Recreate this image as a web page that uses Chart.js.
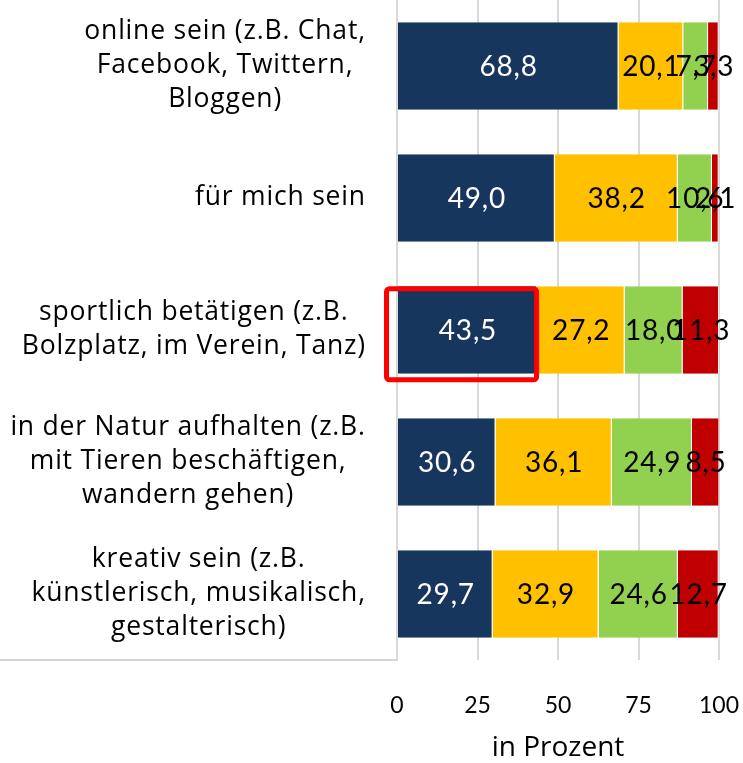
<!DOCTYPE html>
<html>
<head>
<meta charset="utf-8">
<script src="https://cdn.jsdelivr.net/npm/chart.js@4"></script>
<style>
html,body{margin:0;padding:0;background:#fff;}
#wrap{width:743px;height:763px;position:relative;}
</style>
</head>
<body>
<div id="wrap"><canvas id="c" width="743" height="763"></canvas></div>
<script>
const categories = [
  ["online sein (z.B. Chat,", "Facebook, Twittern,", "Bloggen)"],
  ["für mich sein"],
  ["sportlich betätigen (z.B.", "Bolzplatz, im Verein, Tanz)"],
  ["in der Natur aufhalten (z.B.", "mit Tieren beschäftigen,", "wandern gehen)"],
  ["kreativ sein (z.B.", "künstlerisch, musikalisch,", "gestalterisch)"]
];
const seriesA = [68.8, 49.0, 43.5, 30.6, 29.7];
const seriesB = [20.1, 38.2, 27.2, 36.1, 32.9];
const seriesC = [7.7, 10.6, 18.0, 24.9, 24.6];
const seriesD = [3.3, 2.1, 11.3, 8.5, 12.7];
const xTicks = [0, 25, 50, 75, 100];
const axisTitle = "in Prozent";
const highlightIndex = 2;

const FONT = "Lato, 'DejaVu Sans', sans-serif";
const LFONT = "'Open Sans', Lato, sans-serif";

const labelPlugin = {
  id: 'custom',
  afterDatasetsDraw(chart) {
    const ctx = chart.ctx;
    ctx.save();
    ctx.font = "28px " + FONT;
    const ls = 0.8;
    if ('letterSpacing' in ctx) ctx.letterSpacing = ls + 'px';
    ctx.textAlign = 'center';
    ctx.textBaseline = 'middle';
    chart.data.datasets.forEach((ds, di) => {
      const meta = chart.getDatasetMeta(di);
      meta.data.forEach((bar, i) => {
        const v = ds.data[i];
        const cx = (bar.x + bar.base) / 2 + ls / 2;
        ctx.fillStyle = di === 0 ? '#ffffff' : '#000000';
        ctx.fillText(v.toFixed(1).replace('.', ','), cx, bar.y + 1);
      });
    });
    if ('letterSpacing' in ctx) ctx.letterSpacing = '0px';
    // highlight rectangle
    const b = chart.getDatasetMeta(0).data[highlightIndex];
    const h = b.height;
    const left = b.base - 11.5, right = b.x - 0.5;
    const top = b.y - h / 2 + 2.5, bottom = b.y + h / 2 + 6;
    ctx.strokeStyle = '#ff0000';
    ctx.lineWidth = 5;
    ctx.beginPath();
    if (ctx.roundRect) ctx.roundRect(left, top, right - left, bottom - top, 3);
    else ctx.rect(left, top, right - left, bottom - top);
    ctx.stroke();
    ctx.restore();
  },
  afterDraw(chart) {
    const ctx = chart.ctx;
    const ys = chart.scales.y;
    const ca = chart.chartArea;
    ctx.save();
    // label box bottom line
    ctx.strokeStyle = '#d4d4d4';
    ctx.lineWidth = 2;
    ctx.beginPath();
    ctx.moveTo(0, ca.bottom);
    ctx.lineTo(ca.left, ca.bottom);
    ctx.stroke();
    // category labels
    ctx.font = "26.5px " + LFONT;
    const ls = 0.8;
    if ('letterSpacing' in ctx) ctx.letterSpacing = ls + 'px';
    ctx.fillStyle = '#000';
    ctx.textAlign = 'center';
    ctx.textBaseline = 'middle';
    const lh = 34;
    const rightEdge = ca.left - 32 + ls;
    categories.forEach((lines, i) => {
      const y = ys.getPixelForValue(i) - 1;
      let w = 0;
      lines.forEach(l => { w = Math.max(w, ctx.measureText(l).width); });
      const cx = rightEdge - w / 2;
      const y0 = y - (lines.length - 1) * lh / 2;
      lines.forEach((l, k) => ctx.fillText(l, cx, y0 + k * lh));
    });
    ctx.restore();
  }
};

new Chart(document.getElementById('c'), {
  type: 'bar',
  data: {
    labels: categories.map(c => c.join(' ')),
    datasets: [
      { data: seriesA, backgroundColor: '#17365d' },
      { data: seriesB, backgroundColor: '#ffc000' },
      { data: seriesC, backgroundColor: '#92d050' },
      { data: seriesD, backgroundColor: '#c00000' }
    ].map(d => Object.assign(d, {
      borderColor: 'rgba(255,255,255,0.5)',
      borderWidth: { left: 0, right: 1, top: 0, bottom: 0 },
      borderSkipped: false,
      barPercentage: 0.663,
      categoryPercentage: 1.0
    }))
  },
  options: {
    indexAxis: 'y',
    responsive: false,
    animation: false,
    layout: { padding: { top: -4, right: 24, bottom: 0, left: 0 } },
    plugins: { legend: { display: false }, tooltip: { enabled: false } },
    scales: {
      x: {
        stacked: true,
        min: 0, max: 100,
        afterBuildTicks(scale) { scale.ticks = xTicks.map(v => ({ value: v })); },
        grid: { color: '#d9d9d9', lineWidth: 2, drawTicks: false },
        border: { display: false },
        ticks: { color: '#000', font: { size: 23, family: FONT }, padding: 32, maxRotation: 0, autoSkip: false },
        title: { display: true, text: axisTitle, color: '#000', font: { size: 28, family: LFONT }, padding: { top: 0, bottom: -2 } },
        afterFit(scale) { scale.height = 103; scale.paddingRight = 0; scale.paddingLeft = 0; }
      },
      y: {
        stacked: true,
        grid: { display: false, drawTicks: false },
        border: { display: true, color: '#d9d9d9', width: 2 },
        ticks: { display: false },
        afterFit(scale) { scale.width = 397; scale.paddingTop = 0; scale.paddingBottom = 0; }
      }
    }
  },
  plugins: [labelPlugin]
});
</script>
</body>
</html>
